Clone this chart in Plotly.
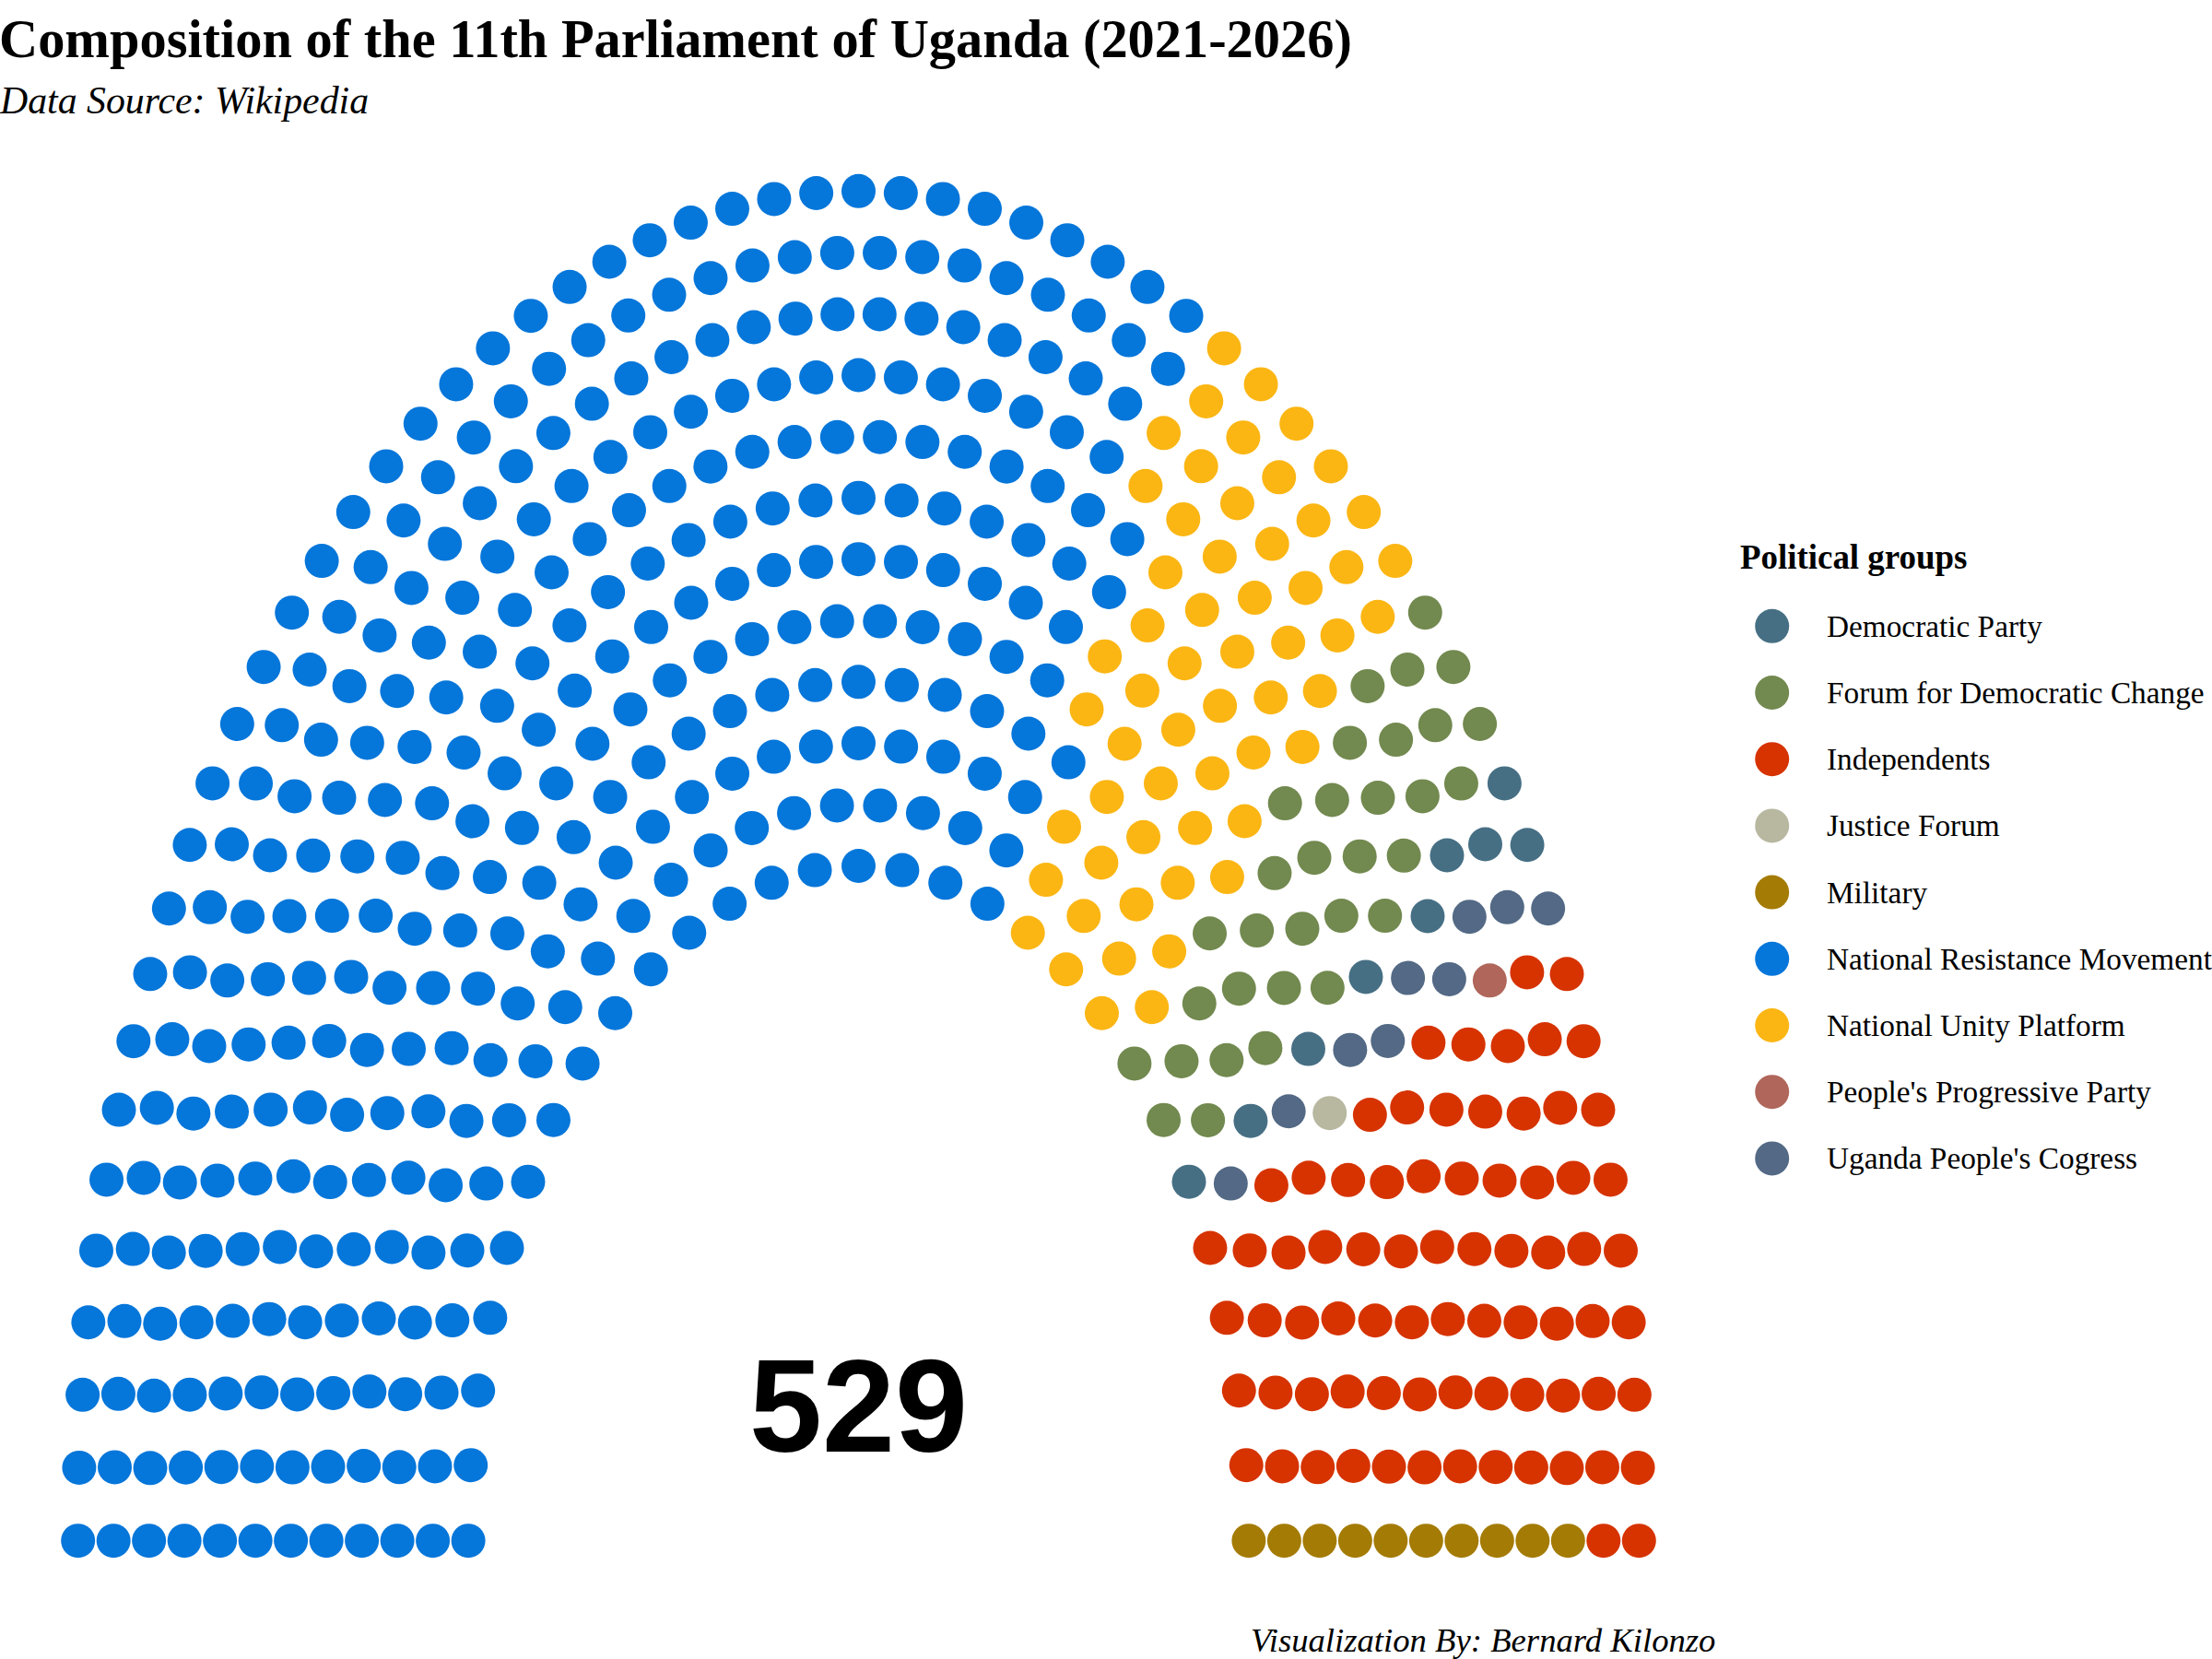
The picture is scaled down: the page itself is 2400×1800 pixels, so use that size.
import numpy as np
import plotly.graph_objects as go

# ---------------- data ----------------
parties = [
    "National Resistance Movement",
    "National Unity Platform",
    "Forum for Democratic Change",
    "Democratic Party",
    "Uganda People's Cogress",
    "Justice Forum",
    "People's Progressive Party",
    "Independents",
    "Military",
]
seats = [336, 57, 32, 9, 9, 1, 1, 74, 10]
party_colors = [
    "#0576da",  # NRM
    "#fbb614",  # NUP
    "#72894f",  # FDC
    "#466f84",  # DP
    "#536985",  # UPC
    "#b8b7a0",  # JF
    "#b0665a",  # PPP
    "#d63300",  # Independents
    "#a47b05",  # Military
]
n_rows = 12
title_text = "Composition of the 11th Parliament of Uganda (2021-2026)"
subtitle_text = "Data Source: Wikipedia"
caption_text = "Visualization By: Bernard Kilonzo"
legend_title = "Political groups"

# ---------------- semicircle parliament layout (ggparliament style) ----------------
total = sum(seats)
radii = np.linspace(1.0, 2.0, n_rows)
remaining = total
pts = []
for i in range(n_rows):
    cnt = int(round(remaining * radii[i] / radii[i:].sum()))
    n1 = cnt - 1
    thetas = [k * (np.pi / n1) for k in range(n1)] + [np.pi]
    for th in thetas:
        pts.append((float(radii[i] * np.cos(th)), float(radii[i] * np.sin(th)), float(radii[i]), th))
    remaining -= cnt
pts.sort(key=lambda p: (-p[3], -p[2]))

labels = []
for p, s in zip(parties, seats):
    labels += [p] * s

fig = go.Figure()
SEAT = 37
for p, c in zip(parties, party_colors):
    xs = [pt[0] for pt, lab in zip(pts, labels) if lab == p]
    ys = [pt[1] for pt, lab in zip(pts, labels) if lab == p]
    fig.add_trace(go.Scatter(x=xs, y=ys, mode="markers", name=p,
                             marker=dict(size=SEAT, color=c, line=dict(width=0)),
                             showlegend=False, xaxis="x", yaxis="y"))

# ---------------- custom legend (pixel overlay axes) ----------------
color_of = dict(zip(parties, party_colors))
legend_items = sorted(parties)
LX, LY0, LSTEP = 1922.7, 679.3, 72.2
ly = [LY0 + k * LSTEP for k in range(len(legend_items))]
fig.add_trace(go.Scatter(x=[LX] * len(legend_items), y=ly, mode="markers",
                         marker=dict(size=SEAT, color=[color_of[p] for p in legend_items], line=dict(width=0)),
                         showlegend=False, xaxis="x2", yaxis="y2", hoverinfo="skip"))

serif = "Liberation Serif, Times New Roman, serif"
annotations = []
for p, yy in zip(legend_items, ly):
    annotations.append(dict(xref="x2", yref="y2", x=1980, y=yy, text=p, showarrow=False,
                            xanchor="left", yanchor="middle",
                            font=dict(family=serif, size=33.3, color="#000000")))
annotations.append(dict(xref="x2", yref="y2", x=1886, y=604.6, text=legend_title, showarrow=False,
                        xanchor="left", yanchor="middle",
                        font=dict(family=serif, size=36.9, color="#000000", weight="bold")))
# title, subtitle, caption
annotations.append(dict(xref="x2", yref="y2", x=0, y=42.1, xshift=-3, text=title_text, showarrow=False,
                        xanchor="left", yanchor="middle",
                        font=dict(family=serif, size=58.4, color="#000000", weight="bold")))
annotations.append(dict(xref="x2", yref="y2", x=0, y=109.0, xshift=-3, text=subtitle_text, showarrow=False,
                        xanchor="left", yanchor="middle",
                        font=dict(family=serif, size=41.8, color="#000000", style="italic")))
annotations.append(dict(xref="x2", yref="y2", x=1862.6, y=1779.0, text=caption_text, showarrow=False,
                        xanchor="right", yanchor="middle",
                        font=dict(family=serif, size=36.7, color="#000000", style="italic")))
# total seats
annotations.append(dict(xref="x", yref="y", x=0, y=0.2, text=str(total), showarrow=False,
                        xanchor="center", yanchor="middle",
                        font=dict(family="Liberation Sans, Arial, sans-serif", size=142,
                                  color="#000000", weight="bold")))

fig.update_layout(
    width=2400, height=1800,
    margin=dict(l=0, r=0, t=0, b=0),
    paper_bgcolor="white", plot_bgcolor="rgba(0,0,0,0)",
    showlegend=False,
    xaxis=dict(domain=[0, 1862.98 / 2400], range=[-2.2, 2.2], visible=False, fixedrange=True),
    yaxis=dict(domain=[0.03061, 0.92550], range=[-0.1, 2.1], visible=False, fixedrange=True),
    xaxis2=dict(domain=[0, 1], range=[0, 2400], visible=False, anchor="y2", fixedrange=True),
    yaxis2=dict(domain=[0, 1], range=[1800, 0], visible=False, anchor="x2", fixedrange=True),
    annotations=annotations,
)

fig.write_html("out.html")
